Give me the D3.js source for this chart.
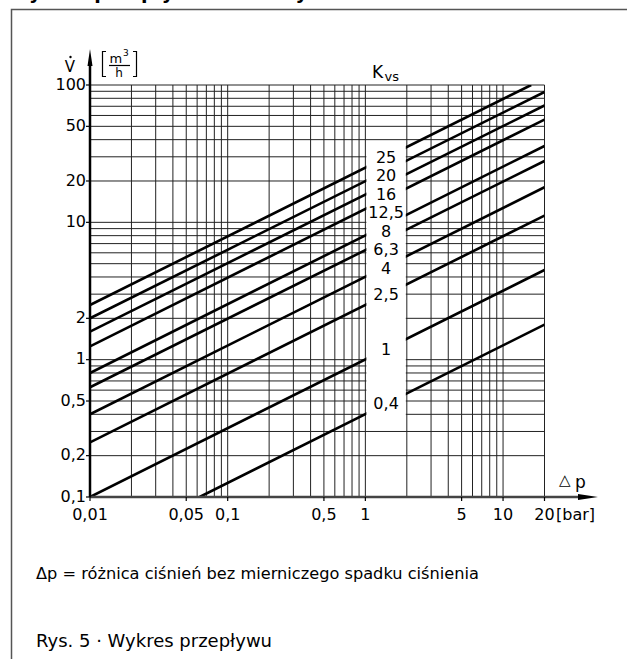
<!DOCTYPE html>
<html>
<head>
<meta charset="utf-8">
<script src="https://cdn.jsdelivr.net/npm/d3@7"></script>
<style>
  body { margin: 0; background: #fff; }
  svg { display: block; font-family: "DejaVu Sans", sans-serif; }
</style>
</head>
<body>
<svg width="627" height="659"></svg>
<script>
// K_vs lines, each drawn as a straight segment on log-log axes
const kvsLabels = ["25", "20", "16", "12,5", "8", "6,3", "4", "2,5", "1", "0,4"];
const startDp = [0.01, 0.01, 0.01, 0.01, 0.01, 0.01, 0.01, 0.01, 0.01, 0.0625];
const startV  = [2.5, 2, 1.6, 1.25, 0.8, 0.63, 0.4, 0.25, 0.1, 0.1];
const endDp   = [16, 20, 20, 20, 20, 20, 20, 20, 20, 20];
const endV    = [100, 89, 71, 56, 36, 28, 18, 11.2, 4.5, 1.8];

// etykiety osi
const xTickVals = [0.01, 0.05, 0.1, 0.5, 1, 5, 10, 20];
const xTickLabels = ["0,01", "0,05", "0,1", "0,5", "1", "5", "10", "20"];
const yTickVals = [0.1, 0.2, 0.5, 1, 2, 10, 20, 50, 100];
const yTickLabels = ["0,1", "0,2", "0,5", "1", "2", "10", "20", "50", "100"];

const svg = d3.select("svg");

const area = { left: 90, right: 544.5, top: 85, bottom: 497 };

const scX = d3.scaleLog().domain([0.01, 20]).range([area.left, area.right]);
const scY = d3.scaleLog().domain([0.1, 100]).range([area.bottom, area.top]);

// tytuł ucięty u góry
svg.append("text")
    .attr("x", 8).attr("y", -1)
    .style("font-size", "19px").style("font-weight", "bold")
    .text("Wykres przepływu dla wody");

// ramka
svg.append("rect")
    .attr("x", 11.5).attr("y", 9.5)
    .attr("width", 700).attr("height", 700)
    .attr("fill", "none").attr("stroke", "#555").attr("stroke-width", 1.5);

// siatka
const grid = svg.append("g").attr("stroke", "#222").attr("stroke-width", 1);
grid.selectAll(".vx")
    .data(scX.ticks())
    .enter().append("line")
    .attr("x1", d => scX(d)).attr("x2", d => scX(d))
    .attr("y1", area.top).attr("y2", area.bottom);
grid.selectAll(".hy")
    .data(scY.ticks())
    .enter().append("line")
    .attr("x1", area.left).attr("x2", area.right)
    .attr("y1", d => scY(d)).attr("y2", d => scY(d));

// linie Kvs
svg.append("clipPath").attr("id", "plotClip")
    .append("rect")
    .attr("x", area.left).attr("y", area.top)
    .attr("width", area.right - area.left).attr("height", area.bottom - area.top);

svg.append("g").attr("clip-path", "url(#plotClip)")
    .selectAll("line")
    .data(kvsLabels)
    .enter().append("line")
    .attr("x1", (d, i) => scX(startDp[i])).attr("y1", (d, i) => scY(startV[i]))
    .attr("x2", (d, i) => scX(endDp[i])).attr("y2", (d, i) => scY(endV[i]))
    .attr("stroke", "#000").attr("stroke-width", 2.6);

// pozycje etykiet: punkt linii w środku pasa 1..2 bar, rozsunięte w pionie
const midDp = Math.sqrt(2);
let labelY = kvsLabels.map((d, i) => {
    const t = (Math.log(midDp) - Math.log(startDp[i])) / (Math.log(endDp[i]) - Math.log(startDp[i]));
    const lv = Math.log(startV[i]) + t * (Math.log(endV[i]) - Math.log(startV[i]));
    return scY(Math.exp(lv));
});
for (let i = 1; i < labelY.length; i++) {
    labelY[i] = Math.max(labelY[i], labelY[i - 1] + 18.5);
}

// biały pas na etykiety
const bandTop = labelY[0] - 12;
const bandBottom = labelY[labelY.length - 1] + 17;
svg.append("rect")
    .attr("x", scX(1) + 1).attr("y", bandTop)
    .attr("width", scX(2) - scX(1) - 2).attr("height", bandBottom - bandTop)
    .attr("fill", "#fff");

svg.append("g").selectAll("text")
    .data(kvsLabels)
    .enter().append("text")
    .attr("x", (scX(1) + scX(2)) / 2)
    .attr("y", (d, i) => labelY[i])
    .attr("dy", "0.35em")
    .attr("text-anchor", "middle")
    .style("font-size", "16px")
    .text(d => d);

// osie
svg.append("line")
    .attr("x1", area.left).attr("x2", 584)
    .attr("y1", area.bottom).attr("y2", area.bottom)
    .attr("stroke", "#444").attr("stroke-width", 2.5);
svg.append("path")
    .attr("d", `M578,494 L598,${area.bottom} L578,500 Z`)
    .attr("fill", "#000");

svg.append("line")
    .attr("x1", area.left).attr("x2", area.left)
    .attr("y1", area.bottom).attr("y2", 64)
    .attr("stroke", "#000").attr("stroke-width", 2.5);
svg.append("path")
    .attr("d", `M87.5,66 L${area.left},49 L92.5,66 Z`)
    .attr("fill", "#000");

// znaczniki i etykiety osi X
svg.append("g").selectAll("line")
    .data(xTickVals)
    .enter().append("line")
    .attr("x1", d => scX(d)).attr("x2", d => scX(d))
    .attr("y1", area.bottom).attr("y2", area.bottom + 4)
    .attr("stroke", "#000").attr("stroke-width", 1.2);
svg.append("g").selectAll("text")
    .data(xTickVals)
    .enter().append("text")
    .attr("x", d => scX(d)).attr("y", 520)
    .attr("text-anchor", "middle")
    .style("font-size", "16px")
    .text((d, i) => xTickLabels[i]);

// znaczniki i etykiety osi Y
svg.append("g").selectAll("line")
    .data(yTickVals)
    .enter().append("line")
    .attr("x1", area.left - 4).attr("x2", area.left)
    .attr("y1", d => scY(d)).attr("y2", d => scY(d))
    .attr("stroke", "#000").attr("stroke-width", 1.2);
svg.append("g").selectAll("text")
    .data(yTickVals)
    .enter().append("text")
    .attr("x", area.left - 4).attr("y", d => scY(d))
    .attr("dy", "0.3em")
    .attr("text-anchor", "end")
    .style("font-size", "16px")
    .text((d, i) => yTickLabels[i]);

// opis osi Y: V z kropką i [m3/h]
svg.append("text").attr("x", 70).attr("y", 72)
    .attr("text-anchor", "middle").style("font-size", "15px").text("V");
svg.append("circle").attr("cx", 70.5).attr("cy", 57).attr("r", 1.2).attr("fill", "#000");

svg.append("path")
    .attr("d", "M106,51.5 H102.5 V76.5 H106 M133,51.5 H136.5 V76.5 H133")
    .attr("fill", "none").attr("stroke", "#000").attr("stroke-width", 1.2);
svg.append("text").attr("x", 109.5).attr("y", 63).style("font-size", "13px").text("m");
svg.append("text").attr("x", 123).attr("y", 56).style("font-size", "9px").text("3");
svg.append("line").attr("x1", 109).attr("x2", 130).attr("y1", 65.5).attr("y2", 65.5)
    .attr("stroke", "#000").attr("stroke-width", 1.2);
svg.append("text").attr("x", 119).attr("y", 77)
    .attr("text-anchor", "middle").style("font-size", "12px").text("h");

// Kvs
svg.append("text").attr("x", 372).attr("y", 78).style("font-size", "17px").text("K");
svg.append("text").attr("x", 384.5).attr("y", 81).style("font-size", "13px").text("vs");

// opis osi X
svg.append("text").attr("x", 559).attr("y", 485).style("font-size", "15px").text("△");
svg.append("text").attr("x", 575).attr("y", 488).style("font-size", "17px").text("p");
svg.append("text").attr("x", 556).attr("y", 520).style("font-size", "16px").text("[bar]");

// podpisy
svg.append("text").attr("x", 36).attr("y", 579)
    .style("font-size", "16.2px")
    .text("Δp = różnica ciśnień bez mierniczego spadku ciśnienia");
svg.append("text").attr("x", 36).attr("y", 647)
    .style("font-size", "18px")
    .text("Rys. 5 · Wykres przepływu");
</script>
</body>
</html>
